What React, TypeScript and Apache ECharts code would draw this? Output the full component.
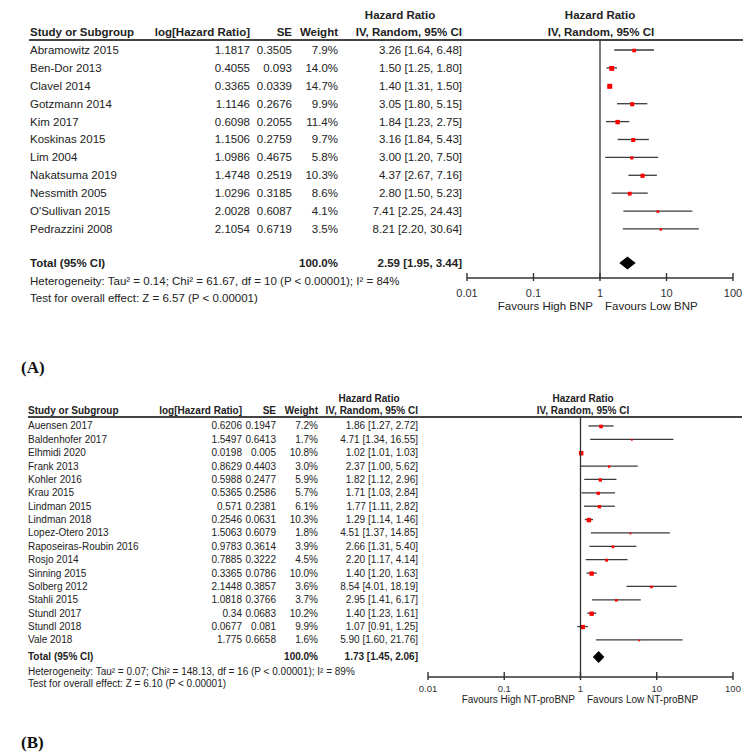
import React, { useEffect, useRef } from "react";
import * as echarts from "echarts";

// ---------- Panel A data ----------
const studiesA = ["Abramowitz 2015", "Ben-Dor 2013", "Clavel 2014", "Gotzmann 2014", "Kim 2017", "Koskinas 2015", "Lim 2004", "Nakatsuma 2019", "Nessmith 2005", "O'Sullivan 2015", "Pedrazzini 2008"];
const logHrA = ["1.1817", "0.4055", "0.3365", "1.1146", "0.6098", "1.1506", "1.0986", "1.4748", "1.0296", "2.0028", "2.1054"];
const seA = ["0.3505", "0.093", "0.0339", "0.2676", "0.2055", "0.2759", "0.4675", "0.2519", "0.3185", "0.6087", "0.6719"];
const weightA = [7.9, 14.0, 14.7, 9.9, 11.4, 9.7, 5.8, 10.3, 8.6, 4.1, 3.5];
const hrA = [3.26, 1.5, 1.4, 3.05, 1.84, 3.16, 3.0, 4.37, 2.8, 7.41, 8.21];
const loA = [1.64, 1.25, 1.31, 1.8, 1.23, 1.84, 1.2, 2.67, 1.5, 2.25, 2.2];
const hiA = [6.48, 1.8, 1.5, 5.15, 2.75, 5.43, 7.5, 7.16, 5.23, 24.43, 30.64];
const totalA = [2.59, 1.95, 3.44];
const hetA = "Heterogeneity: Tau² = 0.14; Chi² = 61.67, df = 10 (P < 0.00001); I² = 84%";
const testA = "Test for overall effect: Z = 6.57 (P < 0.00001)";

// ---------- Panel B data ----------
const studiesB = ["Auensen 2017", "Baldenhofer 2017", "Elhmidi 2020", "Frank 2013", "Kohler 2016", "Krau 2015", "Lindman 2015", "Lindman 2018", "Lopez-Otero 2013", "Raposeiras-Roubin 2016", "Rosjo 2014", "Sinning 2015", "Solberg 2012", "Stahli 2015", "Stundl 2017", "Stundl 2018", "Vale 2018"];
const logHrB = ["0.6206", "1.5497", "0.0198", "0.8629", "0.5988", "0.5365", "0.571", "0.2546", "1.5063", "0.9783", "0.7885", "0.3365", "2.1448", "1.0818", "0.34", "0.0677", "1.775"];
const seB = ["0.1947", "0.6413", "0.005", "0.4403", "0.2477", "0.2586", "0.2381", "0.0631", "0.6079", "0.3614", "0.3222", "0.0786", "0.3857", "0.3766", "0.0683", "0.081", "0.6658"];
const weightB = [7.2, 1.7, 10.8, 3.0, 5.9, 5.7, 6.1, 10.3, 1.8, 3.9, 4.5, 10.0, 3.6, 3.7, 10.2, 9.9, 1.6];
const hrB = [1.86, 4.71, 1.02, 2.37, 1.82, 1.71, 1.77, 1.29, 4.51, 2.66, 2.2, 1.4, 8.54, 2.95, 1.4, 1.07, 5.9];
const loB = [1.27, 1.34, 1.01, 1.0, 1.12, 1.03, 1.11, 1.14, 1.37, 1.31, 1.17, 1.2, 4.01, 1.41, 1.23, 0.91, 1.6];
const hiB = [2.72, 16.55, 1.03, 5.62, 2.96, 2.84, 2.82, 1.46, 14.85, 5.4, 4.14, 1.63, 18.19, 6.17, 1.61, 1.25, 21.76];
const totalB = [1.73, 1.45, 2.06];
const hetB = "Heterogeneity: Tau² = 0.07; Chi² = 148.13, df = 16 (P < 0.00001); I² = 89%";
const testB = "Test for overall effect: Z = 6.10 (P < 0.00001)";

// ---------- Shared x-axis ticks ----------
const axisTicks = [0.01, 0.1, 1, 10, 100];

const FONT = "'Liberation Sans', Arial, Helvetica, sans-serif";
const TXT = "#222";

type Panel = {
  names: string[]; logHr: string[]; se: string[]; weight: number[];
  hr: number[]; lo: number[]; hi: number[]; total: number[];
  fs: number; colName: number; colLog: number; colSe: number; colW: number; colHr: number;
  sqMax: number; wMax: number; totalRow: number; diamondH: number;
  axisRow: number; headRow: number;
};

const fmtCI = (h: number, l: number, u: number) => `${h.toFixed(2)} [${l.toFixed(2)}, ${u.toFixed(2)}]`;

function txt(x: number, y: number, text: string, fs: number, align: string, bold = false) {
  return {
    type: "text", x, y,
    style: { text, fontSize: fs, fontFamily: FONT, fontWeight: bold ? "bold" : "normal", fill: TXT, textAlign: align, textVerticalAlign: "middle" },
  };
}

// y value = distance (in rows) above the x axis, so the axis sits at y = 0
function studySeries(p: Panel, gi: number) {
  return {
    type: "custom", xAxisIndex: gi, yAxisIndex: gi, clip: false, silent: true, z: 3,
    data: p.names.map((_, i) => [p.hr[i], p.lo[i], p.hi[i], p.axisRow - i, p.weight[i]]),
    renderItem: (params: any, api: any) => {
      const i = params.dataIndex;
      const row = api.value(3);
      const c = api.coord([api.value(0), row]);
      const l = api.coord([api.value(1), row]);
      const h = api.coord([api.value(2), row]);
      const s = p.sqMax * Math.sqrt(api.value(4) / p.wMax);
      const y = c[1];
      return {
        type: "group",
        children: [
          { type: "line", shape: { x1: l[0], y1: y, x2: h[0], y2: y }, style: { stroke: "#3a3a3a", lineWidth: 1.3 } },
          { type: "rect", shape: { x: c[0] - s / 2, y: y - s / 2 + 0.5, width: s, height: s }, style: { fill: "#ff0000" } },
          txt(p.colName, y, p.names[i], p.fs, "left"),
          txt(p.colLog, y, p.logHr[i], p.fs, "right"),
          txt(p.colSe, y, p.se[i], p.fs, "right"),
          txt(p.colW, y, p.weight[i].toFixed(1) + "%", p.fs, "right"),
          txt(p.colHr, y, fmtCI(p.hr[i], p.lo[i], p.hi[i]), p.fs, "right"),
        ],
      };
    },
  };
}

// pooled estimate (diamond), plus the x-axis line, its crossing ticks and the line of no effect
function totalSeries(p: Panel, gi: number) {
  const top = p.axisRow - p.headRow;
  return {
    type: "custom", xAxisIndex: gi, yAxisIndex: gi, clip: false, silent: true, z: 4,
    data: [[p.total[0], p.total[1], p.total[2], p.axisRow - p.totalRow]],
    renderItem: (params: any, api: any) => {
      const row = api.value(3);
      const c = api.coord([api.value(0), row]);
      const l = api.coord([api.value(1), row]);
      const h = api.coord([api.value(2), row]);
      const y = c[1];
      const d = p.diamondH;
      const a0 = api.coord([axisTicks[0], 0]);
      const a1 = api.coord([axisTicks[axisTicks.length - 1], 0]);
      const one = api.coord([1, 0]);
      const oneTop = api.coord([1, top]);
      const children: any[] = [
        { type: "line", shape: { x1: a0[0], y1: a0[1], x2: a1[0], y2: a1[1] }, style: { stroke: "#333", lineWidth: 1.5 } },
        { type: "line", shape: { x1: one[0], y1: one[1], x2: oneTop[0], y2: oneTop[1] }, style: { stroke: "#333", lineWidth: 1.3 } },
      ];
      axisTicks.forEach((t) => {
        const a = api.coord([t, 0]);
        children.push({ type: "line", shape: { x1: a[0], y1: a[1] - 5, x2: a[0], y2: a[1] + 3 }, style: { stroke: "#333", lineWidth: 1.4 } });
      });
      children.push(
        { type: "polygon", shape: { points: [[l[0], y], [c[0], y - d], [h[0], y], [c[0], y + d]] }, style: { fill: "#000" } },
        txt(p.colName, y, "Total (95% CI)", p.fs, "left", true),
        txt(p.colW, y, "100.0%", p.fs, "right", true),
        txt(p.colHr, y, fmtCI(p.total[0], p.total[1], p.total[2]), p.fs, "right", true),
      );
      return { type: "group", children };
    },
  };
}

const panelA: Panel = {
  names: studiesA, logHr: logHrA, se: seA, weight: weightA, hr: hrA, lo: loA, hi: hiA, total: totalA,
  fs: 11.5, colName: 30, colLog: 250, colSe: 292, colW: 338, colHr: 462,
  sqMax: 5, wMax: 14.7, totalRow: 11.9, diamondH: 6.5, axisRow: 12.74, headRow: -0.56,
};
const panelB: Panel = {
  names: studiesB, logHr: logHrB, se: seB, weight: weightB, hr: hrB, lo: loB, hi: hiB, total: totalB,
  fs: 10, colName: 28, colLog: 242, colSe: 276, colW: 318, colHr: 418,
  sqMax: 4.5, wMax: 10.8, totalRow: 17.27, diamondH: 6, axisRow: 18.77, headRow: -0.67,
};

function xAxis(gi: number, fs: number, margin: number) {
  return {
    type: "log", logBase: 10, min: 0.01, max: 100, gridIndex: gi, position: "bottom",
    axisLine: { show: false },
    axisTick: { show: false },
    minorTick: { show: false },
    splitLine: { show: false },
    axisLabel: { fontSize: fs, fontFamily: FONT, color: "#333", margin, formatter: (v: number) => String(v) },
  };
}

function yAxis(gi: number, p: Panel) {
  return { type: "value", gridIndex: gi, min: 0, max: p.axisRow - p.headRow, show: false, splitLine: { show: false } };
}

export default function App() {
  const ref = useRef<HTMLDivElement>(null);
  useEffect(() => {
    const chart = echarts.init(ref.current!, null, { renderer: "svg" });
    const option: any = {
      animation: false,
      grid: [
        { left: 467, right: 15, top: 40, height: 238 },
        { left: 428, right: 15, top: 417, height: 260 },
      ],
      xAxis: [xAxis(0, 11, 9), xAxis(1, 9.5, 6)],
      yAxis: [yAxis(0, panelA), yAxis(1, panelB)],
      series: [
        studySeries(panelA, 0), totalSeries(panelA, 0),
        studySeries(panelB, 1), totalSeries(panelB, 1),
      ],
      graphic: [
        // Panel A headers
        txt(400, 15, "Hazard Ratio", 11.5, "center", true),
        txt(600, 15, "Hazard Ratio", 11.5, "center", true),
        txt(30, 32, "Study or Subgroup", 11.5, "left", true),
        txt(250, 32, "log[Hazard Ratio]", 11.5, "right", true),
        txt(292, 32, "SE", 11.5, "right", true),
        txt(338, 32, "Weight", 11.5, "right", true),
        txt(462, 32, "IV, Random, 95% CI", 11.5, "right", true),
        txt(601, 32, "IV, Random, 95% CI", 11.5, "center", true),
        { type: "line", shape: { x1: 29, y1: 40, x2: 743, y2: 40 }, style: { stroke: "#444", lineWidth: 2 } },
        txt(30, 281, hetA, 11.5, "left"),
        txt(30, 298, testA, 11.5, "left"),
        txt(593, 306, "Favours High BNP", 11.5, "right"),
        txt(605, 306, "Favours Low BNP", 11.5, "left"),
        { type: "text", x: 21, y: 367, style: { text: "(A)", fontSize: 17, fontFamily: "'Liberation Serif', 'Times New Roman', serif", fontWeight: "bold", fill: "#111", textAlign: "left", textVerticalAlign: "middle" } },
        // Panel B headers
        txt(369, 398, "Hazard Ratio", 10, "center", true),
        txt(583, 398, "Hazard Ratio", 10, "center", true),
        txt(28, 410, "Study or Subgroup", 10, "left", true),
        txt(242, 410, "log[Hazard Ratio]", 10, "right", true),
        txt(276, 410, "SE", 10, "right", true),
        txt(318, 410, "Weight", 10, "right", true),
        txt(418, 410, "IV, Random, 95% CI", 10, "right", true),
        txt(583, 410, "IV, Random, 95% CI", 10, "center", true),
        { type: "line", shape: { x1: 28, y1: 417, x2: 742, y2: 417 }, style: { stroke: "#444", lineWidth: 2 } },
        txt(28, 671, hetB, 10, "left"),
        txt(28, 683, testB, 10, "left"),
        txt(575, 699, "Favours High NT-proBNP", 10, "right"),
        txt(587, 699, "Favours Low NT-proBNP", 10, "left"),
        { type: "text", x: 21, y: 742, style: { text: "(B)", fontSize: 17, fontFamily: "'Liberation Serif', 'Times New Roman', serif", fontWeight: "bold", fill: "#111", textAlign: "left", textVerticalAlign: "middle" } },
      ],
    };
    chart.setOption(option);
    return () => chart.dispose();
  }, []);
  return <div ref={ref} style={{ position: "absolute", left: 0, top: 0, width: 748, height: 756 }} />;
}
